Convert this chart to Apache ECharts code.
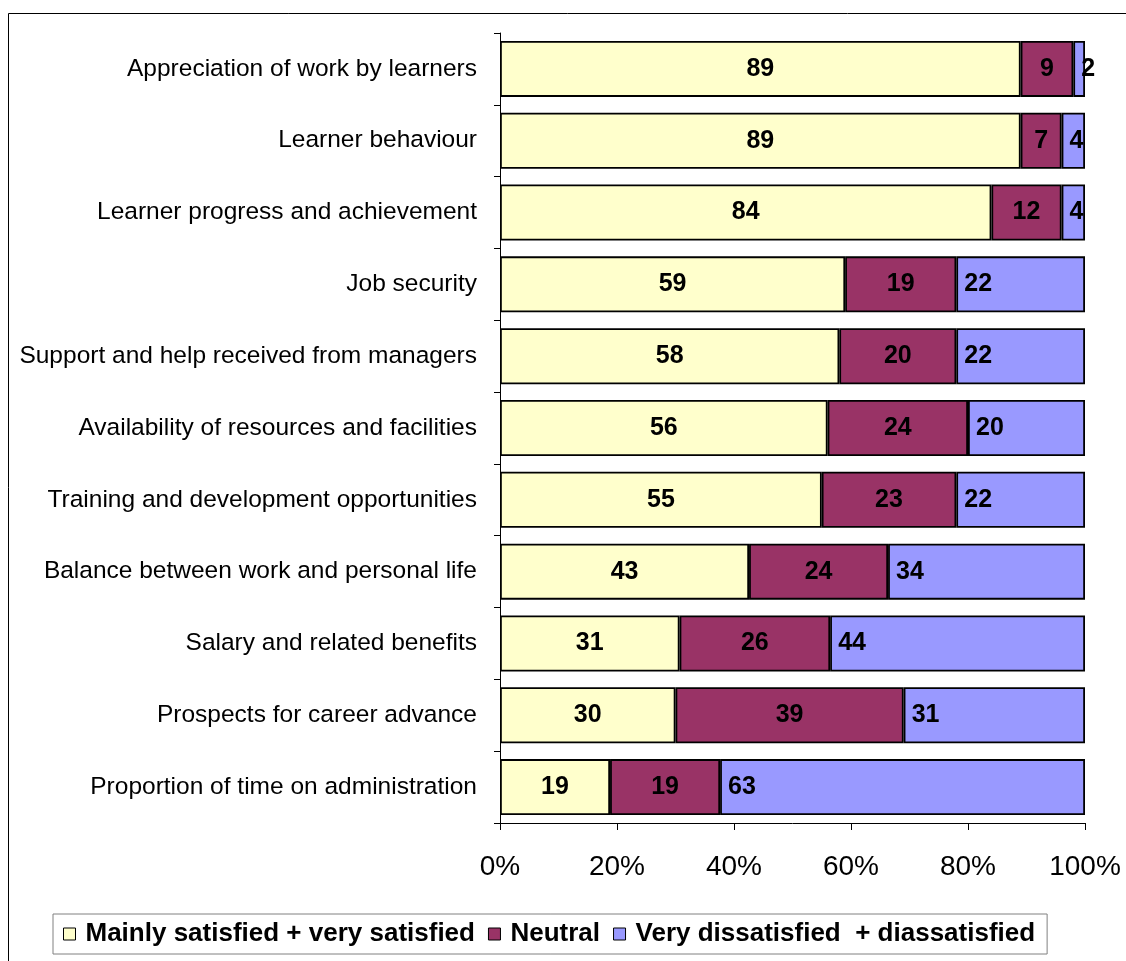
<!DOCTYPE html>
<html>
<head>
<meta charset="utf-8">
<script src="https://cdn.jsdelivr.net/npm/echarts@6/dist/echarts.min.js"></script>
<style>
html,body{margin:0;padding:0;background:#fff;}
#chart{width:1126px;height:961px;}
</style>
</head>
<body>
<div id="chart"></div>
<script>
const categories = [
  "Appreciation of work by learners",
  "Learner behaviour",
  "Learner progress and achievement",
  "Job security",
  "Support and help received from managers",
  "Availability of resources and facilities",
  "Training and development opportunities",
  "Balance between work and personal life",
  "Salary and related benefits",
  "Prospects for career advance",
  "Proportion of time on administration"
];
const satisfied   = [89, 89, 84, 59, 58, 56, 55, 43, 31, 30, 19];
const neutral     = [9, 7, 12, 19, 20, 24, 23, 24, 26, 39, 19];
const dissatisfied= [2, 4, 4, 22, 22, 20, 22, 34, 44, 31, 63];
const seriesNames = ["Mainly satisfied + very satisfied", "Neutral", "Very dissatisfied  + diassatisfied"];
const xTicks = [0, 20, 40, 60, 80, 100];

const totals = categories.map((c, i) => satisfied[i] + neutral[i] + dissatisfied[i]);
function toPct(arr) {
  return arr.map((v, i) => ({ value: v / totals[i] * 100, raw: v }));
}

const FONT = "'Liberation Sans', Arial, sans-serif";
const colors = ["#FFFFCC", "#993366", "#9999FF"];
const labelBase = { show: true, color: "#000", fontFamily: FONT, fontWeight: "bold", fontSize: 25, formatter: p => p.data.raw };

const chart = echarts.init(document.getElementById('chart'), null, { renderer: 'canvas' });
chart.setOption({
  animation: false,
  backgroundColor: "#fff",
  graphic: [{
    type: 'rect', x: 0, y: 0, silent: true,
    shape: { x: 8.5, y: 13.5, width: 1140, height: 980 },
    style: { fill: 'none', stroke: '#000', lineWidth: 1 }
  }],
  grid: { left: 500, right: 41, top: 33, bottom: 138, containLabel: false },
  legend: {
    left: 53, top: 914,
    padding: [7, 12, 7, 10],
    borderColor: '#808080', borderWidth: 1,
    itemWidth: 12, itemHeight: 12, itemGap: 13,
    icon: 'rect',
    textStyle: { fontFamily: FONT, fontWeight: 'bold', fontSize: 26, color: '#000', padding: [0, 0, 0, 5] },
    data: seriesNames.map((n, i) => ({ name: n, itemStyle: { color: colors[i], borderColor: '#000', borderWidth: 1 } }))
  },
  xAxis: {
    type: 'value', min: 0, max: 100, interval: 20,
    axisLine: { show: true, lineStyle: { color: '#000', width: 1 } },
    axisTick: { show: true, length: 7, lineStyle: { color: '#000' } },
    splitLine: { show: false },
    axisLabel: { formatter: v => xTicks.includes(v) ? v + '%' : '', fontFamily: FONT, fontSize: 28, color: '#000', margin: 30 }
  },
  yAxis: {
    type: 'category', inverse: true, data: categories,
    axisLine: { show: true, lineStyle: { color: '#000', width: 1 } },
    axisTick: { show: true, length: 6, lineStyle: { color: '#000' } },
    axisLabel: { fontFamily: FONT, fontSize: 24.5, color: '#000', margin: 23 }
  },
  series: [
    { name: seriesNames[0], type: 'bar', stack: 's', barCategoryGap: '22%', data: toPct(satisfied),
      itemStyle: { color: colors[0], borderColor: '#000', borderWidth: 1.8 },
      label: Object.assign({ position: 'inside' }, labelBase) },
    { name: seriesNames[1], type: 'bar', stack: 's', data: toPct(neutral),
      itemStyle: { color: colors[1], borderColor: '#000', borderWidth: 1.8 },
      label: Object.assign({ position: 'inside' }, labelBase) },
    { name: seriesNames[2], type: 'bar', stack: 's', data: toPct(dissatisfied),
      itemStyle: { color: colors[2], borderColor: '#000', borderWidth: 1.8 },
      label: Object.assign({ position: 'insideLeft', distance: 8 }, labelBase) }
  ]
});
</script>
</body>
</html>
